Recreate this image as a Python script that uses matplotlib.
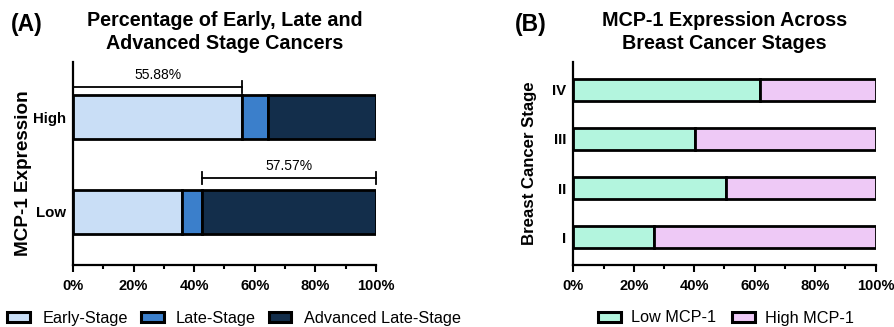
import matplotlib
matplotlib.use("Agg")
import matplotlib.pyplot as plt
from matplotlib.patches import Patch
from matplotlib.ticker import MultipleLocator, FuncFormatter

plt.rcParams['font.family'] = ['Liberation Sans', 'DejaVu Sans']

# Panel A data
a_groups = ["Low", "High"]
a_stages = ["Early-Stage", "Late-Stage", "Advanced Late-Stage"]
a_early = [36.0, 55.88]
a_late = [6.43, 8.5]
a_adv = [57.57, 35.62]
a_colors = ["#C9DEF6", "#3B7FCB", "#132E4B"]
a_brackets = [(42.43, 100.0, "57.57%"), (0.0, 55.88, "55.88%")]

# Panel B data
b_stages = ["I", "II", "III", "IV"]
b_low = [26.7, 50.4, 40.3, 61.8]
b_high = [73.3, 49.6, 59.7, 38.2]
b_series = ["Low MCP-1", "High MCP-1"]
b_colors = ["#B3F5DE", "#EEC9F6"]

xticks = [0, 20, 40, 60, 80, 100]

fig = plt.figure(figsize=(8.95, 3.27), dpi=100)
W, H = 895, 327

def ax_rect(x0, x1, ytop, ybot):
    return [x0 / W, 1 - ybot / H, (x1 - x0) / W, (ybot - ytop) / H]

axA = fig.add_axes(ax_rect(73, 376, 62, 265))
axB = fig.add_axes(ax_rect(573.3, 875.7, 62, 265))

edge_lw = 2.0

def style(ax):
    for s in ["top", "right"]:
        ax.spines[s].set_visible(False)
    for s in ["left", "bottom"]:
        ax.spines[s].set_linewidth(1.6)
    ax.set_xlim(0, 100)
    ax.set_xticks(xticks)
    ax.xaxis.set_minor_locator(MultipleLocator(10))
    ax.xaxis.set_major_formatter(FuncFormatter(lambda v, p: f"{int(v)}%"))
    ax.tick_params(axis='x', which='major', length=5, width=1.5, pad=5,
                   labelsize=10.5)
    ax.tick_params(axis='x', which='minor', length=3, width=1.5)
    ax.tick_params(axis='y', length=0, pad=5, labelsize=10.8)
    for lab in ax.get_xticklabels() + ax.get_yticklabels():
        lab.set_fontweight('bold')

# Panel A
ya = [0, 1]
hA = 0.463
lefts = [0, 0]
for vals, col in zip([a_early, a_late, a_adv], a_colors):
    axA.barh(ya, vals, left=lefts, height=hA, color=col, edgecolor='black',
             linewidth=edge_lw)
    lefts = [l + v for l, v in zip(lefts, vals)]
axA.set_ylim(-0.558, 1.579)
axA.set_yticks(ya)
axA.set_yticklabels(a_groups)
style(axA)
axA.set_ylabel("MCP-1 Expression", fontsize=13.6, fontweight='bold')
axA.yaxis.set_label_coords(-0.135, 0.45)

bracket_y = [0.358, 1.316]
for (x0, x1, txt), y in zip(a_brackets, bracket_y):
    axA.plot([x0, x1], [y, y], color='black', lw=1.3, clip_on=False)
    for xx in (x0, x1):
        axA.plot([xx, xx], [y - 0.063, y + 0.063], color='black', lw=1.3,
                 clip_on=False)
    axA.text((x0 + x1) / 2, y + 0.05, txt, ha='center', va='bottom',
             fontsize=10)

# Panel B
yb = [0, 1, 2, 3]
hB = 0.449
axB.barh(yb, b_low, height=hB, color=b_colors[0], edgecolor='black',
         linewidth=edge_lw)
axB.barh(yb, b_high, left=b_low, height=hB, color=b_colors[1],
         edgecolor='black', linewidth=edge_lw)
axB.set_ylim(-0.571, 3.571)
axB.set_yticks(yb)
axB.set_yticklabels(b_stages)
style(axB)
axB.set_ylabel("Breast Cancer Stage", fontsize=12.1, fontweight='bold')
axB.yaxis.set_label_coords(-0.120, 0.5)

# Titles
fig.text(224.5 / W, 1 - 32 / H, "Percentage of Early, Late and\nAdvanced Stage Cancers",
         ha='center', va='center', fontsize=14.2, fontweight='bold', linespacing=1.3)
fig.text(724.5 / W, 1 - 32 / H, "MCP-1 Expression Across\nBreast Cancer Stages",
         ha='center', va='center', fontsize=14.2, fontweight='bold', linespacing=1.3)
fig.text(11 / W, 1 - 24 / H, "(A)", ha='left', va='center', fontsize=16.5,
         fontweight='bold')
fig.text(515 / W, 1 - 24 / H, "(B)", ha='left', va='center', fontsize=16.5,
         fontweight='bold')

# Legends
hA_handles = [Patch(facecolor=c, edgecolor='black', linewidth=2.2, label=l)
              for c, l in zip(a_colors, a_stages)]
fig.legend(handles=hA_handles, loc='center', bbox_to_anchor=(234 / W, 1 - 318 / H),
           ncol=3, frameon=False, fontsize=11.7, handlelength=1.4,
           handleheight=0.6, handletextpad=0.75, columnspacing=0.8,
           borderpad=0, borderaxespad=0)
hB_handles = [Patch(facecolor=c, edgecolor='black', linewidth=2.2, label=l)
              for c, l in zip(b_colors, b_series)]
fig.legend(handles=hB_handles, loc='center', bbox_to_anchor=(726 / W, 1 - 318 / H),
           ncol=2, frameon=False, fontsize=11.7, handlelength=1.4,
           handleheight=0.6, handletextpad=0.6, columnspacing=1.0,
           borderpad=0, borderaxespad=0)

fig.savefig("out.png", dpi=100)
